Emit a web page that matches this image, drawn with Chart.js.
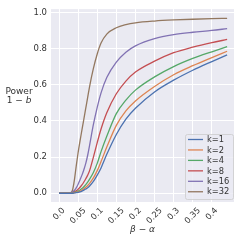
<!DOCTYPE html>
<html>
<head>
<meta charset="utf-8">
<script src="https://cdn.jsdelivr.net/npm/chart.js@4.4.0/dist/chart.umd.min.js"></script>
<style>
  html, body { margin: 0; padding: 0; background: #fff; }
  #wrap { width: 240px; height: 240px; }
</style>
</head>
<body>
<div id="wrap"><canvas id="chart" width="240" height="240"></canvas></div>
<script>
// x positions (beta - alpha) shared by all series
const xValues = [0, 0.02, 0.03, 0.035, 0.04, 0.045, 0.05, 0.055, 0.06, 0.065, 0.07, 0.075, 0.08,
                 0.09, 0.1, 0.11, 0.125, 0.15, 0.175, 0.2, 0.25, 0.3, 0.35, 0.4, 0.44];

const k1  = [0, 0, 0, 0, 0.002, 0.003, 0.005, 0.008, 0.012, 0.017, 0.023, 0.03, 0.04,
             0.065, 0.1, 0.14, 0.215, 0.325, 0.41, 0.47, 0.56, 0.625, 0.68, 0.728, 0.765];
const k2  = [0, 0, 0, 0.001, 0.003, 0.005, 0.008, 0.012, 0.018, 0.025, 0.033, 0.043, 0.055,
             0.085, 0.125, 0.175, 0.255, 0.375, 0.455, 0.51, 0.59, 0.655, 0.705, 0.75, 0.785];
const k4  = [0, 0, 0, 0.002, 0.004, 0.007, 0.012, 0.018, 0.026, 0.036, 0.048, 0.062, 0.078,
             0.115, 0.165, 0.23, 0.315, 0.44, 0.515, 0.57, 0.643, 0.7, 0.745, 0.782, 0.81];
const k8  = [0, 0, 0.001, 0.003, 0.007, 0.013, 0.022, 0.033, 0.046, 0.062, 0.08, 0.1, 0.125,
             0.2, 0.28, 0.355, 0.445, 0.55, 0.62, 0.67, 0.73, 0.777, 0.808, 0.833, 0.85];
const k16 = [0, 0, 0.002, 0.006, 0.015, 0.03, 0.05, 0.075, 0.1, 0.13, 0.165, 0.21, 0.265,
             0.38, 0.475, 0.555, 0.64, 0.725, 0.78, 0.815, 0.855, 0.877, 0.89, 0.9, 0.91];
const k32 = [0, 0, 0.002, 0.015, 0.07, 0.15, 0.225, 0.29, 0.35, 0.41, 0.47, 0.53, 0.59,
             0.69, 0.77, 0.83, 0.88, 0.915, 0.932, 0.942, 0.952, 0.958, 0.962, 0.965, 0.967];

const seriesLabels = ['k=1', 'k=2', 'k=4', 'k=8', 'k=16', 'k=32'];
const seriesValues = [k1, k2, k4, k8, k16, k32];
const seriesColors = ['#4C72B0', '#DD8452', '#55A868', '#C44E52', '#8172B3', '#937860'];

const xTicks = [0, 0.05, 0.1, 0.15, 0.2, 0.25, 0.3, 0.35, 0.4];
const xTickLabels = ['0.0', '0.05', '0.1', '0.15', '0.2', '0.25', '0.3', '0.35', '0.4'];
const yTicks = [0, 0.2, 0.4, 0.6, 0.8, 1.0];
const yTickLabels = ['0.0', '0.2', '0.4', '0.6', '0.8', '1.0'];

const FONT = 'DejaVu Sans';
const TEXT = '#333333';

const bgPlugin = {
    id: 'bg',
    beforeDraw(chart) {
        const { ctx, chartArea: a } = chart;
        ctx.save();
        ctx.fillStyle = '#ffffff';
        ctx.fillRect(0, 0, chart.width, chart.height);
        ctx.fillStyle = '#EAEAF2';
        ctx.fillRect(a.left, a.top, a.right - a.left, a.bottom - a.top);
        ctx.restore();
    }
};

// legend drawn inside the plot, lower right
const innerLegend = {
    id: 'innerLegend',
    afterDatasetsDraw(chart) {
        const ctx = chart.ctx;
        const x0 = 185, y0 = 134, w = 48, h = 65;
        ctx.save();
        ctx.beginPath();
        ctx.roundRect(x0 + 0.5, y0 + 0.5, w, h, 2);
        ctx.fillStyle = 'rgba(234,234,242,0.8)';
        ctx.fill();
        ctx.strokeStyle = '#cccccc';
        ctx.lineWidth = 0.8;
        ctx.stroke();
        ctx.font = '8.3px "' + FONT + '"';
        ctx.textBaseline = 'middle';
        ctx.textAlign = 'left';
        chart.data.datasets.forEach((ds, i) => {
            const y = 139.5 + i * 10.45;
            ctx.strokeStyle = ds.borderColor;
            ctx.lineWidth = 1.3;
            ctx.beginPath();
            ctx.moveTo(188, y);
            ctx.lineTo(203, y);
            ctx.stroke();
            ctx.fillStyle = TEXT;
            ctx.fillText(ds.label, 207, y + 0.5);
        });
        ctx.restore();
    }
};

// rotated x tick labels, box centred under each tick like matplotlib
const xLabels = {
    id: 'xLabels',
    afterDraw(chart) {
        const ctx = chart.ctx;
        const xs = chart.scales.x;
        const size = 8.3;
        ctx.save();
        ctx.fillStyle = TEXT;
        ctx.font = size + 'px "' + FONT + '"';
        ctx.textAlign = 'center';
        ctx.textBaseline = 'middle';
        xTicks.forEach((v, i) => {
            const w = ctx.measureText(xTickLabels[i]).width;
            const half = (w + size * 0.8) * Math.SQRT1_2 / 2;
            ctx.save();
            ctx.translate(xs.getPixelForValue(v), chart.chartArea.bottom + 5 + half);
            ctx.rotate(-Math.PI / 4);
            ctx.fillText(xTickLabels[i], 0, 0);
            ctx.restore();
        });
        ctx.restore();
    }
};

const axisTitles = {
    id: 'axisTitles',
    afterDraw(chart) {
        const ctx = chart.ctx;
        ctx.save();
        ctx.fillStyle = TEXT;
        ctx.textBaseline = 'alphabetic';
        // y title, two horizontal lines
        ctx.font = '9px "' + FONT + '"';
        ctx.textAlign = 'center';
        ctx.fillText('Power', 19, 94);
        const part1 = '1 \u2212 ';
        const w1 = ctx.measureText(part1).width;
        ctx.font = 'italic 9px "' + FONT + '"';
        const w2 = ctx.measureText('b').width;
        const sx = 19 - (w1 + w2) / 2;
        ctx.textAlign = 'left';
        ctx.font = '9px "' + FONT + '"';
        ctx.fillText(part1, sx, 103);
        ctx.font = 'italic 9px "' + FONT + '"';
        ctx.fillText('b', sx + w1, 103);
        // x title
        ctx.textAlign = 'center';
        const a = chart.chartArea;
        ctx.fillText('\u03B2 \u2212 \u03B1', (a.left + a.right) / 2, 232);
        ctx.restore();
    }
};

new Chart(document.getElementById('chart'), {
    type: 'line',
    data: {
        datasets: seriesValues.map((vals, i) => ({
            label: seriesLabels[i],
            data: vals.map((v, j) => ({ x: xValues[j], y: v })),
            borderColor: seriesColors[i],
            borderWidth: 1.3,
            pointRadius: 0,
            fill: false,
            cubicInterpolationMode: 'monotone'
        }))
    },
    options: {
        responsive: false,
        animation: false,
        events: [],
        layout: { padding: { left: 0, right: 6, top: 6, bottom: 0 } },
        plugins: {
            legend: { display: false },
            tooltip: { enabled: false }
        },
        scales: {
            x: {
                type: 'linear',
                min: -0.021,
                max: 0.458,
                afterBuildTicks: (scale) => { scale.ticks = xTicks.map(v => ({ value: v })); },
                afterFit: (scale) => { scale.height = 38; },
                grid: { color: '#ffffff', lineWidth: 1, drawTicks: false },
                border: { display: false },
                ticks: { display: false }
            },
            y: {
                min: -0.0485,
                max: 1.018,
                afterBuildTicks: (scale) => { scale.ticks = yTicks.map(v => ({ value: v })); },
                afterFit: (scale) => { scale.width = 51; },
                grid: { color: '#ffffff', lineWidth: 1, drawTicks: false },
                border: { display: false },
                ticks: {
                    padding: 4,
                    color: TEXT,
                    font: { family: FONT, size: 8.5 },
                    callback: (v, i) => yTickLabels[i]
                }
            }
        }
    },
    plugins: [bgPlugin, innerLegend, xLabels, axisTitles]
});
</script>
</body>
</html>
